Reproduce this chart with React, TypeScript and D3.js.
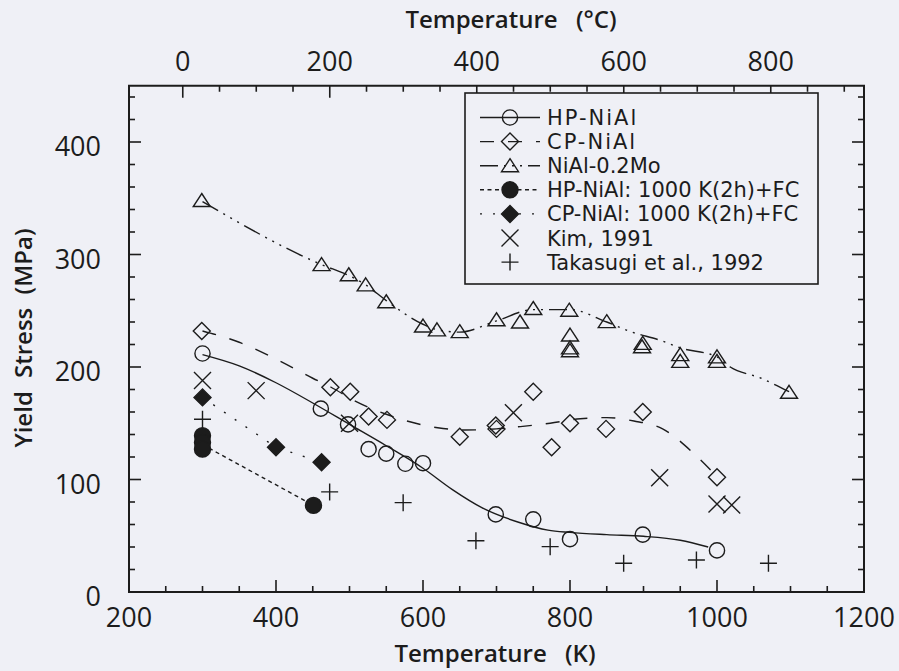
import React from 'react';
import * as d3 from 'd3';

// HP-NiAl (open circles, solid fit)
const hpT = [300, 461, 498, 526, 550, 576, 600, 699, 750, 800, 899, 1000];
const hpS = [212, 163, 149, 127, 123, 114, 114.5, 69, 64.6, 47, 51, 37];
const hpFitT = [300, 350, 400, 450, 500, 550, 600, 640, 680, 730, 770, 800, 850, 900, 950, 988];
const hpFitS = [211, 201, 186, 168, 149, 130, 110, 91, 75, 62, 55, 53, 51, 49.5, 46, 40];

// CP-NiAl (open diamonds, dashed fit)
const cpT = [299, 474, 501, 526, 551, 650, 699, 700, 750, 775, 800, 849, 899, 1000];
const cpS = [232, 182, 178, 156, 153, 138, 148, 145, 178, 128.6, 150, 145, 160, 102];
const cpFitT = [300, 350, 400, 450, 475, 507, 550, 620, 657, 700, 732, 773, 814, 850, 887, 926, 967, 998];
const cpFitS = [232, 222, 207, 190, 182, 170, 158, 146, 144, 145, 147, 150, 154, 155, 152, 145, 124, 104];

// NiAl-0.2Mo (open triangles, dash-dot-dot fit)
const moT = [299, 462, 499, 522, 550, 600, 619, 650, 700, 732, 750, 799, 800, 800, 800, 850, 898, 899, 950, 950, 1000, 1000, 1098];
const moS = [348, 291, 282, 273, 258, 236.4, 233, 231.4, 242, 240, 252, 250.5, 228.4, 217, 214.5, 240.3, 218, 221, 211, 205, 209, 205, 177.5];
const moFitT = [300, 462, 500, 522, 550, 600, 620, 650, 700, 750, 800, 850, 880, 926, 950, 1000, 1018, 1060, 1098];
const moFitS = [347, 291, 281, 273, 259, 238, 233, 231, 241, 251, 251, 240, 232, 223, 217, 209, 200, 190, 178];

// HP-NiAl: 1000 K(2h)+FC (filled circles, short dashes)
const hpFcT = [300, 300, 300, 451];
const hpFcS = [139, 133, 127, 77];
const hpFcLineT = [300, 451];
const hpFcLineS = [131, 77];

// CP-NiAl: 1000 K(2h)+FC (filled diamonds, dotted)
const cpFcT = [300, 400, 462];
const cpFcS = [173, 128.6, 115.3];

// Kim, 1991
const kimT = [300, 373, 500, 723, 922, 1000, 1020];
const kimS = [188, 179, 150, 159.4, 101.6, 78.2, 77.3];

// Takasugi et al., 1992
const takT = [300, 473, 573, 672, 773, 873, 972, 1070];
const takS = [153.5, 89, 79.4, 45.6, 40.3, 25.5, 28.4, 25.5];

const legendLabels = [
  'HP-NiAl',
  'CP-NiAl',
  'NiAl-0.2Mo',
  'HP-NiAl: 1000 K(2h)+FC',
  'CP-NiAl: 1000 K(2h)+FC',
  'Kim, 1991',
  'Takasugi et al., 1992'
];

const kTicks = d3.range(200, 1201, 50);
const kLabels = [200, 400, 600, 800, 1000, 1200];
const cTicks = d3.range(0, 901, 50);
const cLabels = [0, 200, 400, 600, 800];
const sTicks = d3.range(0, 441, 20);
const sLabels = [0, 100, 200, 300, 400];

const W = 899;
const H = 671;
const INK = '#1c1c1c';
const BG = '#eff0f6';
const FONT = "'Open Sans', 'DejaVu Sans', sans-serif";
const LEGEND_FONT = "'DejaVu Sans', 'Open Sans', sans-serif";

const x = d3.scaleLinear().domain([200, 1200]).range([129, 864]);
const xc = d3.scaleLinear().domain([200 - 273.15, 1200 - 273.15]).range([129, 864]);
const y = d3.scaleLinear().domain([0, 450]).range([592, 85.75]);

const [x0, x1] = x.range();
const [y0, y1] = y.range();

type Kind = 'circle' | 'diamond' | 'triangle' | 'fcircle' | 'fdiamond' | 'times' | 'plus';

const markerPath = (kind: Kind) => {
  switch (kind) {
    case 'diamond':
    case 'fdiamond':
      return 'M0,-8.5L8.5,0L0,8.5L-8.5,0Z';
    case 'triangle':
      return 'M0,-7L8.5,6L-8.5,6Z';
    case 'times':
      return 'M-8.5,-8.5L8.5,8.5M-8.5,8.5L8.5,-8.5';
    case 'plus':
      return 'M-8.5,0L8.5,0M0,-8.5L0,8.5';
    default:
      return '';
  }
};

function Marker({ kind, cx, cy }: { kind: Kind; cx: number; cy: number }) {
  const filled = kind === 'fcircle' || kind === 'fdiamond';
  if (kind === 'circle' || kind === 'fcircle') {
    return (
      <circle
        cx={cx}
        cy={cy}
        r={kind === 'circle' ? 7.6 : 8}
        fill={filled ? INK : 'none'}
        stroke={INK}
        strokeWidth={1.4}
      />
    );
  }
  return (
    <path
      d={markerPath(kind)}
      transform={`translate(${cx},${cy})`}
      fill={filled ? INK : 'none'}
      stroke={INK}
      strokeWidth={1.4}
      strokeLinejoin="miter"
    />
  );
}

const zip = (a: number[], b: number[]) => a.map((v, i) => [v, b[i]] as [number, number]);

const smooth = d3
  .line<[number, number]>()
  .x(d => x(d[0]))
  .y(d => y(d[1]))
  .curve(d3.curveMonotoneX);

const straight = d3
  .line<[number, number]>()
  .x(d => x(d[0]))
  .y(d => y(d[1]))
  .curve(d3.curveLinear);

const series = [
  { kind: 'circle' as Kind, t: hpT, s: hpS, dash: 'none', letter: 2 },
  { kind: 'diamond' as Kind, t: cpT, s: cpS, dash: '14 14', letter: 2 },
  { kind: 'triangle' as Kind, t: moT, s: moS, dash: '18 6 2 6 2 6 2 6', letter: 0 },
  { kind: 'fcircle' as Kind, t: hpFcT, s: hpFcS, dash: '4 3.5', letter: 0 },
  { kind: 'fdiamond' as Kind, t: cpFcT, s: cpFcS, dash: '2 11', letter: 0 },
  { kind: 'times' as Kind, t: kimT, s: kimS, dash: '', letter: 0 },
  { kind: 'plus' as Kind, t: takT, s: takS, dash: '', letter: 0 }
];

const fits = [
  { d: smooth(zip(hpFitT, hpFitS)), dash: 'none' },
  { d: smooth(zip(cpFitT, cpFitS)), dash: '14 14' },
  { d: smooth(zip(moFitT, moFitS)), dash: '18 6 2 6 2 6 2 6' },
  { d: straight(zip(hpFcLineT, hpFcLineS)), dash: '4 3.5' },
  { d: straight(zip(cpFcT, cpFcS)), dash: '2 11' }
];

export default function App() {
  const tickFont = 27;
  const legend = { x: 465, y: 93, w: 353, h: 191, row0: 117.5, step: 24.1 };

  return (
    <svg
      width={W}
      height={H}
      viewBox={`0 0 ${W} ${H}`}
      style={{ position: 'absolute', left: 0, top: 0 }}
      fontFamily={FONT}
    >
      <rect x={0} y={0} width={W} height={H} fill={BG} />

      {/* fit lines */}
      <g fill="none" stroke={INK} strokeWidth={1.4}>
        {fits.map((f, i) => (
          <path key={i} d={f.d || ''} strokeDasharray={f.dash} />
        ))}
      </g>

      {/* markers */}
      {series.map((s, i) => (
        <g key={i}>
          {s.t.map((t, j) => (
            <Marker key={j} kind={s.kind} cx={x(t)} cy={y(s.s[j])} />
          ))}
        </g>
      ))}

      {/* frame */}
      <rect
        x={x0}
        y={y1}
        width={x1 - x0}
        height={y0 - y1}
        fill="none"
        stroke={INK}
        strokeWidth={2}
      />

      {/* ticks: bottom K, top °C, left and right MPa, all inward */}
      <g stroke={INK} strokeWidth={1.6}>
        {kTicks.map(t => {
          const len = t % 200 === 0 ? 12 : 6;
          return <line key={t} x1={x(t)} x2={x(t)} y1={y0} y2={y0 - len} />;
        })}
        {cTicks.map(t => {
          const len = t % 200 === 0 ? 12 : 6;
          return <line key={'c' + t} x1={xc(t)} x2={xc(t)} y1={y1} y2={y1 + len} />;
        })}
        {sTicks.map(t => {
          const len = t % 100 === 0 ? 12 : 6;
          return (
            <g key={'s' + t}>
              <line x1={x0} x2={x0 + len} y1={y(t)} y2={y(t)} />
              <line x1={x1} x2={x1 - len} y1={y(t)} y2={y(t)} />
            </g>
          );
        })}
      </g>

      <g fill={INK} fontSize={tickFont}>
        {kLabels.map(t => (
          <text key={t} x={x(t)} y={627} textAnchor="middle">
            {t}
          </text>
        ))}
        {cLabels.map(t => (
          <text key={'c' + t} x={xc(t)} y={71} textAnchor="middle">
            {t}
          </text>
        ))}
        {sLabels.map(t => (
          <text key={'s' + t} x={101} y={y(t)} dy="0.52em" textAnchor="end">
            {t}
          </text>
        ))}
      </g>

      {/* axis titles */}
      <g fill={INK} fontSize={24} fontWeight={600}>
        <text x={495} y={662} textAnchor="middle" wordSpacing={12}>
          Temperature (K)
        </text>
        <text x={511} y={28} textAnchor="middle" wordSpacing={12}>
          Temperature (°C)
        </text>
        <text
          transform={`translate(32,${338}) rotate(-90)`}
          textAnchor="middle"
          wordSpacing={7}
        >
          Yield Stress (MPa)
        </text>
      </g>

      {/* legend */}
      <g>
        <rect
          x={legend.x}
          y={legend.y}
          width={legend.w}
          height={legend.h}
          fill={BG}
          stroke={INK}
          strokeWidth={1.6}
        />
        {legendLabels.map((label, i) => {
          const ly = legend.row0 + i * legend.step;
          const s = series[i];
          return (
            <g key={label}>
              {s.dash !== '' && (
                <line
                  x1={480}
                  x2={540}
                  y1={ly}
                  y2={ly}
                  stroke={INK}
                  strokeWidth={1.4}
                  strokeDasharray={s.dash}
                />
              )}
              <Marker kind={s.kind} cx={510} cy={ly} />
              <text
                x={547}
                y={ly}
                dy="0.36em"
                fontSize={21}
                fontFamily={LEGEND_FONT}
                fill={INK}
                letterSpacing={s.letter}
              >
                {label}
              </text>
            </g>
          );
        })}
      </g>
    </svg>
  );
}
